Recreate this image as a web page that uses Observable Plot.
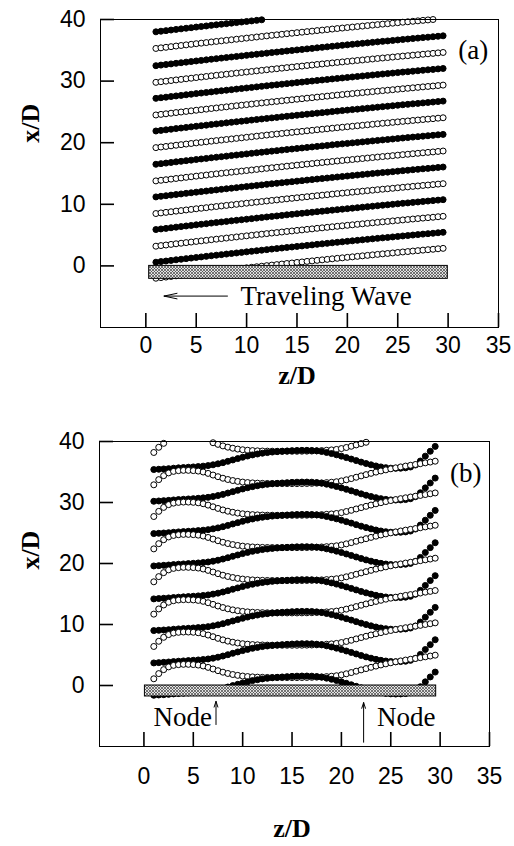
<!DOCTYPE html>
<html><head><meta charset="utf-8">
<script src="https://cdn.jsdelivr.net/npm/d3@7"></script>
<script src="https://cdn.jsdelivr.net/npm/@observablehq/plot@0.6"></script>
<style>body{margin:0;background:#fff} svg{display:block}</style>
</head><body>
<svg width="0" height="0" style="position:absolute"><defs>
<pattern id="hatchA" patternUnits="userSpaceOnUse" width="3" height="3"><rect width="3" height="3" fill="#e2e2e2"/><path d="M0,0L3,3M3,0L0,3" stroke="#444" stroke-width="0.7"/></pattern>
</defs></svg>
<script>
// marker positions along the cylinder (z/D)
const zPos = [1,1.5,2,2.5,3,3.5,4,4.5,5,5.5,6,6.5,7,7.5,8,8.5,9,9.5,10,10.5,11,11.5,12,12.5,13,13.5,14,14.5,15,15.5,16,16.5,17,17.5,18,18.5,19,19.5,20,20.5,21,21.5,22,22.5,23,23.5,24,24.5,25,25.5,26,26.5,27,27.5,28,28.5,29,29.5];

// (a) traveling wave: rise of every snapshot along z, and snapshot offsets at z=1
const riseA = [0,0.10,0.19,0.29,0.39,0.48,0.58,0.67,0.77,0.86,0.95,1.05,1.14,1.23,1.32,1.41,1.50,1.59,1.68,1.77,1.86,1.95,2.04,2.13,2.21,2.30,2.39,2.47,2.56,2.64,2.73,2.81,2.90,2.98,3.06,3.15,3.23,3.31,3.39,3.47,3.55,3.63,3.71,3.79,3.87,3.95,4.02,4.10,4.18,4.26,4.33,4.41,4.48,4.56,4.63,4.70,4.78,4.85];
const startsA = [-2.0,0.6,3.2,5.9,8.5,11.2,13.8,16.5,19.2,21.9,24.5,27.2,29.8,32.5,35.3,38.0];
const openA = [true,false,true,false,true,false,true,false,true,false,true,false,true,false,true,false];

// (b) standing wave: shape of filled and open snapshots, and their offsets at z=1
const riseFilledB = [0,0.05,0.1,0.15,0.22,0.28,0.33,0.38,0.43,0.49,0.56,0.65,0.78,0.94,1.13,1.35,1.58,1.8,2.02,2.22,2.4,2.55,2.68,2.78,2.87,2.94,3.0,3.05,3.1,3.13,3.15,3.15,3.13,3.07,2.96,2.8,2.62,2.42,2.2,1.96,1.72,1.47,1.22,0.99,0.78,0.59,0.43,0.31,0.23,0.2,0.22,0.28,0.42,0.75,1.4,2.2,3.0,3.8];
const riseOpenB = [0,0.85,1.5,1.95,2.2,2.32,2.37,2.37,2.33,2.25,2.1,1.87,1.6,1.33,1.08,0.87,0.7,0.56,0.45,0.37,0.31,0.27,0.24,0.22,0.21,0.2,0.2,0.2,0.2,0.2,0.21,0.22,0.24,0.27,0.31,0.36,0.42,0.5,0.64,0.82,1.02,1.24,1.46,1.67,1.88,2.08,2.27,2.45,2.62,2.78,2.93,3.07,3.2,3.33,3.46,3.6,3.73,3.87];
const filledStartsB = [-1.6,3.7,9.0,14.2,19.6,24.9,30.2,35.4];
const openStartsB = [1.1,6.4,11.7,17.0,22.4,27.7,32.9,38.2];

const xTicks = [0,5,10,15,20,25,30,35];
const yTicks = [0,10,20,30,40];
const substrateA = [{z1:0.33, z2:29.97, x1:-2.1, x2:0}];
const substrateB = [{z1:0.1, z2:29.6, x1:-1.8, x2:0}];

const XDOM = [-4.5, 35], YDOM = [-10, 40];
const XMAX = 40;
const linesA = startsA.map((s,k) => ({open: openA[k], rows: zPos.map((z,i) => ({z, x: s + riseA[i]}))}));
const linesB = [
  ...filledStartsB.map(s => ({start: s, open: false, rows: zPos.map((z,i) => ({z, x: s + riseFilledB[i]}))})),
  ...openStartsB.map(s => ({start: s, open: true, rows: zPos.map((z,i) => ({z, x: s + riseOpenB[i]}))}))
].sort((a,b) => b.start - a.start);

const serif = "Liberation Serif, Times New Roman, serif";
const dotMarks = lines => lines.map(l => Plot.dot(l.rows, {x:"z", y:"x", r:3, fill: l.open ? "white" : "black", stroke:"black", strokeWidth:1, filter: d => d.x <= XMAX}));

function panel({height, marginTop, marginBottom, marginLeft, marginRight, lines, substrate, extra, tickPadX, zLabelDy, xLabelY, xLabelDx}) {
  return Plot.plot({
    width: 514, height, marginTop, marginBottom, marginLeft, marginRight,
    x: {domain: XDOM},
    y: {domain: YDOM},
    style: {fontFamily: "Liberation Sans, Arial, sans-serif", fontSize: "23px", color: "black", background: "white"},
    marks: [
      ...dotMarks(lines),
      Plot.rect(substrate, {x1:"z1", x2:"z2", y1:"x1", y2:"x2", fill:"url(#hatchA)", stroke:"black", strokeWidth:1}),
      Plot.frame({stroke:"black", strokeWidth:1}),
      Plot.text(["z/D"], {x: 15, frameAnchor: "bottom", dy: zLabelDy, text: d => d, fontFamily: serif, fontWeight: "bold", fontSize: 26}),
      Plot.text(["x/D"], {y: xLabelY, frameAnchor: "left", dx: xLabelDx, rotate: -90, text: d => d, fontFamily: serif, fontWeight: "bold", fontSize: 26}),
      ...extra,
      // axes with inward ticks (drawn last)
      Plot.axisY({ticks: yTicks, tickSize: -14, tickPadding: 29, stroke: "black", strokeWidth: 1.6, fontSize: 23, label: null}),
      Plot.axisX({ticks: xTicks, tickSize: -14, tickPadding: tickPadX + 14, stroke: "black", strokeWidth: 1.6, fontSize: 23, label: null})
    ]
  });
}

const chartA = panel({
  height: 400, marginTop: 19, marginBottom: 73, marginLeft: 100, marginRight: 16,
  lines: linesA, substrate: substrateA, tickPadX: 9, zLabelDy: 56, xLabelY: 20, xLabelDx: -70,
  extra: [
    Plot.arrow([0], {x1: 8.1, x2: 1.8, y1: -4.9, y2: -4.9, stroke: "black", strokeWidth: 1, headLength: 20, headAngle: 24}),
    Plot.text(["Traveling Wave"], {x: 9.4, y: -4.9, text: d => d, textAnchor: "start", fontFamily: serif, fontSize: 27}),
    Plot.text(["(a)"], {x: 32.5, y: 35, text: d => d, fontFamily: serif, fontSize: 27})
  ]
});

const chartB = panel({
  height: 446, marginTop: 41, marginBottom: 100, marginLeft: 99, marginRight: 25,
  lines: linesB, substrate: substrateB, tickPadX: 21, zLabelDy: 90, xLabelY: 19, xLabelDx: -69,
  extra: [
    Plot.arrow([0], {x1: 7.3, x2: 7.3, y1: -6.4, y2: -2.6, stroke: "black", strokeWidth: 1, headLength: 9, headAngle: 36}),
    Plot.arrow([0], {x1: 22.25, x2: 22.25, y1: -9.3, y2: -2.8, stroke: "black", strokeWidth: 1, headLength: 9, headAngle: 36}),
    Plot.text(["Node"], {x: 6.9, y: -5.2, text: d => d, textAnchor: "end", fontFamily: serif, fontSize: 27}),
    Plot.text(["Node"], {x: 23.6, y: -5.2, text: d => d, textAnchor: "start", fontFamily: serif, fontSize: 27}),
    Plot.text(["(b)"], {x: 32.6, y: 34.8, text: d => d, fontFamily: serif, fontSize: 27})
  ]
});

document.body.append(chartA, chartB);
</script>
</body></html>
